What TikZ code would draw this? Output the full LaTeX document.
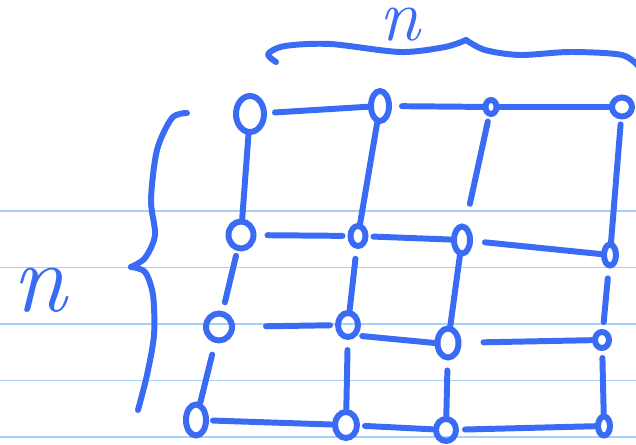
\documentclass[tikz,border=0pt]{standalone}
\usepackage{tikz}
\usetikzlibrary{shapes.geometric,positioning}
\definecolor{cPen}{HTML}{3A6BF5}
\definecolor{cRule}{HTML}{A6D0F7}
\tikzset{
  vtx/.style 2 args = {ellipse, draw=cPen, line width=3.4pt, inner sep=0pt,
                       minimum width=#1*0.02cm, minimum height=#2*0.02cm},
  ed/.style   = {draw=cPen, line width=3.4pt, line cap=round},
  brc/.style  = {draw=cPen, line width=3.4pt, line cap=round, line join=round},
  rule/.style = {draw=cRule, line width=1.1pt},
  lab/.style  = {text=cPen, font=\fontsize{#1}{#1}\selectfont\itshape, inner sep=0pt},
}

\begin{document}
\begin{tikzpicture}[x=0.02cm, y=-0.02cm]
  \clip (0,0) rectangle (636,445);
  \useasboundingbox (0,0) rectangle (636,445);

  \foreach \y in {211,267.5,324,380.5,437}
    \draw[rule] (0,\y) -- (636,\y);

  \node[vtx={28}{36}] (a1) at (250,114) {};
  \node[vtx={18}{30}] (a2) at (380,106) {};
  \node[vtx={11}{14}] (a3) at (491,107) {};
  \node[vtx={20}{19}] (a4) at (622,107) {};
  \node[vtx={25}{27}] (b1) at (241,235) {};
  \node[vtx={15}{20}] (b2) at (358,236) {};
  \node[vtx={16}{27}] (b3) at (462,240) {};
  \node[vtx={12}{21}] (b4) at (610,255) {};
  \node[vtx={26}{27}] (c1) at (219,327) {};
  \node[vtx={20}{24}] (c2) at (348,325) {};
  \node[vtx={21}{29}] (c3) at (448,343) {};
  \node[vtx={14}{16}] (c4) at (602,340) {};
  \node[vtx={20}{31}] (d1) at (196,420) {};
  \node[vtx={22}{26}] (d2) at (346,425) {};
  \node[vtx={20}{22}] (d3) at (446,430) {};
  \node[vtx={12}{19}] (d4) at (604,426) {};

  \foreach \s/\t/\p/\q in {a1/a2/0.16cm/0cm, a2/a3/0.2cm/0cm, a3/a4/0cm/0cm,
                           b1/b2/0.22cm/0.1cm, b2/b3/0.1cm/0cm, b3/b4/0.24cm/0cm,
                           c1/c2/0.62cm/0.1cm, c2.south east/c3.west/0.1cm/0cm, c3/c4/0.44cm/0cm,
                           d1/d2/0.08cm/0cm, d2/d3/0.1cm/0cm, d3/d4/0.12cm/0cm,
                           a1/b1/0cm/0cm, a2/b2/0cm/0cm, a3/b3/0.1cm/0.42cm, a4/b4/0.1cm/0cm,
                           b1/c1/0.1cm/0.18cm, b2/c2/0.2cm/0cm, b3/c3/0cm/0cm, b4/c4/0.2cm/0.14cm,
                           c1/d1/0.24cm/0cm, c2/d2/0.2cm/0cm, c3/d3/0.2cm/0cm, c4/d4/0.14cm/0cm}
    \draw[ed, shorten <=\p, shorten >=\q] (\s) -- (\t);

  \draw[brc] plot[smooth] coordinates {(276,62) (268,54) (285,46) (330,44) (400,52) (445,47) (466,40)};
  \draw[brc] plot[smooth] coordinates {(466,40) (485,50) (520,55) (570,52) (622,55) (640,68)};
  \draw[brc] plot[smooth] coordinates {(187,113) (172,118) (157,150) (151,200) (155,235) (145,258) (131,267)};
  \draw[brc] plot[smooth] coordinates {(131,267) (145,272) (153,295) (154,335) (147,375) (138,410)};

  \node[lab=42] (nTop) at (400,25) {n};
  \node[lab=56] (nLeft) at (40,290) {n};
\end{tikzpicture}
\end{document}
